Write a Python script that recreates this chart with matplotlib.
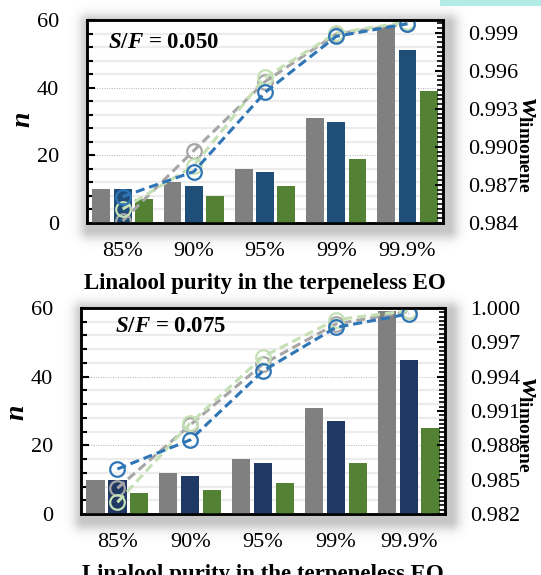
import numpy as np
import matplotlib
matplotlib.use("Agg")
import matplotlib.pyplot as plt
from matplotlib.ticker import MultipleLocator, AutoMinorLocator, FormatStrFormatter
from matplotlib.patches import Rectangle

plt.rcParams['font.family'] = ['Liberation Serif', 'DejaVu Serif']
plt.rcParams['mathtext.fontset'] = 'custom'
plt.rcParams['mathtext.rm'] = 'Liberation Serif:bold'
plt.rcParams['mathtext.it'] = 'Liberation Serif:italic:bold'
plt.rcParams['mathtext.bf'] = 'Liberation Serif:bold'

categories = ["85%", "90%", "95%", "99%", "99.9%"]

# S/F = 0.050 : number of stages (bars) and limonene mass fraction (lines)
n_grey_050 = [10, 12, 16, 31, 58]
n_blue_050 = [10, 11, 15, 30, 51]
n_green_050 = [7, 8, 11, 19, 39]
w_grey_050 = [0.98416, 0.98971, 0.99513, 0.99890, 0.99972]
w_green_050 = [0.98510, 0.98852, 0.99547, 0.99897, 0.99985]
w_blue_050 = [0.98608, 0.98805, 0.99429, 0.99871, 0.99970]

# S/F = 0.075
n_grey_075 = [10, 12, 16, 31, 59]
n_blue_075 = [10, 11, 15, 27, 45]
n_green_075 = [6, 7, 9, 15, 25]
w_grey_075 = [0.98425, 0.98978, 0.99510, 0.99860, 0.99970]
w_green_075 = [0.98302, 0.98993, 0.99575, 0.99897, 0.99977]
w_blue_075 = [0.98593, 0.98847, 0.99450, 0.99830, 0.99948]

W, H = 541, 575
fig = plt.figure(figsize=(W / 100, H / 100), dpi=100)

panels = [
    dict(rect=(87, 20, 443, 223), label="0.050",
         bars=(n_grey_050, n_blue_050, n_green_050),
         lines=(w_grey_050, w_green_050, w_blue_050),
         blue="#1f4e79", wlim=(0.984, 1.000), wticks=np.arange(0.984, 0.9995, 0.003),
         txt=(0.06, 0.89), nlab=(24, 120), wlab=(528, 145)),
    dict(rect=(81, 308, 445, 514), label="0.075",
         bars=(n_grey_075, n_blue_075, n_green_075),
         lines=(w_grey_075, w_green_075, w_blue_075),
         blue="#203864", wlim=(0.982, 1.000), wticks=np.arange(0.982, 1.0005, 0.003),
         txt=(0.093, 0.91), nlab=(18, 413), wlab=(528, 425)),
]

# soft drop shadow behind both plot frames
yy, xx = np.mgrid[0:H, 0:W]
alpha = np.zeros((H, W))
for p in panels:
    x0, y0, x1, y1 = p["rect"]
    ox, oy = 5, 6
    dx = np.maximum(np.maximum((x0 + ox - 3) - xx, xx - (x1 + ox)), 0)
    dy = np.maximum(np.maximum((y0 + oy - 3) - yy, yy - (y1 + oy)), 0)
    d = np.hypot(dx, dy)
    alpha = np.maximum(alpha, 0.36 * np.exp(-(d / 10.0) ** 2))
shadow = np.zeros((H, W, 4))
shadow[..., :3] = 0.38
shadow[..., 3] = alpha
fig.figimage(shadow, xo=0, yo=0, origin="upper", zorder=0)

fig.patches.append(Rectangle((440 / W, 1 - 5.5 / H), 101 / W, 5.5 / H,
                             transform=fig.transFigure, facecolor="#b2ece6",
                             edgecolor="none", zorder=1))

x = np.arange(len(categories))
bw = 0.25
off = 0.30
grey_bar = "#808080"
green_bar = "#548235"
line_cols = {"grey": "#a6a6a6", "green": "#c5e0b4", "blue": "#2e75b6"}

for p in panels:
    x0, y0, x1, y1 = p["rect"]
    ax = fig.add_axes([x0 / W, 1 - y1 / H, (x1 - x0) / W, (y1 - y0) / H], zorder=2)
    ax.set_facecolor("white")
    g, b, gr = p["bars"]
    ax.bar(x - off, g, bw, color=grey_bar, zorder=3)
    ax.bar(x, b, bw, color=p["blue"], zorder=3)
    ax.bar(x + off, gr, bw, color=green_bar, zorder=3)
    ax.set_xlim(-0.5, 4.5)
    ax.set_ylim(0, 60)
    for yv in np.arange(4, 60, 4):
        if yv % 20:
            ax.axhline(yv, color="#ececec", lw=1.6, zorder=1)
        else:
            ax.axhline(yv, color="#b0b0b0", lw=0.7, ls=(0, (1, 1.5)), zorder=1)
    ax.set_xticks(x)
    ax.set_xticklabels(categories)
    ax.yaxis.set_major_locator(MultipleLocator(20))
    ax.yaxis.set_minor_locator(MultipleLocator(4))
    ax.tick_params(axis="y", which="major", direction="in", length=6, width=1.5,
                   labelsize=16, pad=20)
    ax.tick_params(axis="y", which="minor", direction="in", length=4, width=1.5)
    ax.tick_params(axis="x", length=0, labelsize=16, pad=14)
    for s in ax.spines.values():
        s.set_linewidth(1.8)
    ax.set_xlabel("Linalool purity in the terpeneless EO", fontsize=16.5,
                  fontweight="bold", labelpad=8)
    ax.text(p["txt"][0], p["txt"][1], r"$S/F$ = " + p["label"], transform=ax.transAxes,
            fontsize=16.5, fontweight="bold", va="center", ha="left", zorder=6)

    ax2 = ax.twinx()
    ax2.set_zorder(3)
    for key, ys in zip(("grey", "green", "blue"), p["lines"]):
        ax2.plot(x, ys, ls=(0, (3, 1.6)), lw=2.2, color=line_cols[key], marker="o",
                 ms=10.5, mfc="none", mec=line_cols[key], mew=1.6)
    ax2.set_ylim(*p["wlim"])
    ax2.set_yticks(p["wticks"])
    ax2.yaxis.set_major_formatter(FormatStrFormatter("%.3f"))
    ax2.yaxis.set_minor_locator(AutoMinorLocator(8))
    ax2.tick_params(axis="y", which="major", direction="in", length=6, width=1.5,
                    labelsize=16, pad=18)
    ax2.tick_params(axis="y", which="minor", direction="in", length=4, width=1.2)
    for s in ax2.spines.values():
        s.set_linewidth(1.8)

    fig.text(p["nlab"][0] / W, 1 - p["nlab"][1] / H, r"$n$", fontsize=20,
             rotation=90, ha="center", va="center")
    fig.text(p["wlab"][0] / W, 1 - p["wlab"][1] / H, r"$w_{\mathrm{limonene}}$",
             fontsize=20, rotation=270, ha="center", va="center")

fig.savefig("out.png", dpi=100)
